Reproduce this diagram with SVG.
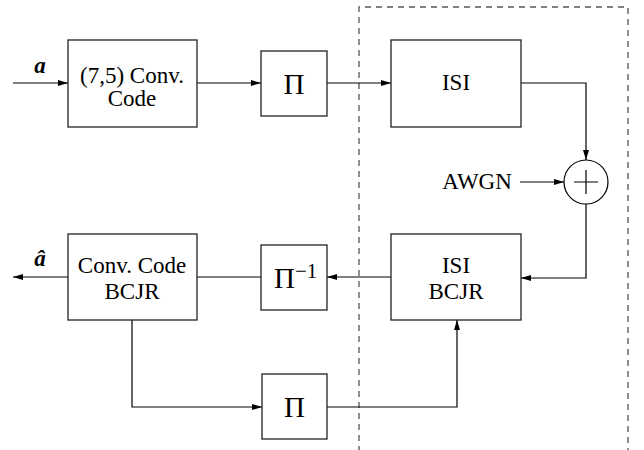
<svg xmlns="http://www.w3.org/2000/svg" width="644" height="450" viewBox="0 0 644 450" font-family="'Liberation Serif', 'Times New Roman', 'DejaVu Serif', serif">
<defs>
<marker id="ah" viewBox="0 0 10 6" refX="10" refY="3" markerWidth="10" markerHeight="6" markerUnits="userSpaceOnUse" orient="auto">
<path d="M0,0 L10,3 L0,6 z" fill="#000"/>
</marker>
</defs>
<style>
.box{fill:#fff;stroke:#222;stroke-width:1.3}
.t{font-size:23px;fill:#000;text-anchor:middle}
.pi{font-size:29px;fill:#000}
.ln{fill:none;stroke:#000;stroke-width:1.2}
.ar{marker-end:url(#ah)}
.dash{fill:none;stroke:#555;stroke-width:1.3;stroke-dasharray:6,5}
.bi{font-size:23px;font-weight:bold;font-style:italic;text-anchor:middle}
</style>
<rect width="644" height="450" fill="#fff"/>
<path class="dash" d="M359,452 L359,7 L628,7 L628,452"/>
<g id="connectors">
<path class="ln ar" d="M13,83 L68,83"/>
<path class="ln ar" d="M197,83 L261,83"/>
<path class="ln ar" d="M327,83 L391,83"/>
<path class="ln ar" d="M521,83 L586,83 L586,160"/>
<path class="ln ar" d="M520,182 L564,182"/>
<path class="ln ar" d="M586,204 L586,278 L521,278"/>
<path class="ln ar" d="M391,277 L327,277"/>
<path class="ln" d="M261,277 L197,277"/>
<path class="ln ar" d="M68,277 L13,277"/>
<path class="ln ar" d="M132,320 L132,407 L262,407"/>
<path class="ln ar" d="M327,407 L457,407 L457,320"/>
</g>
<g id="label-a"><text class="bi" x="40" y="73" font-family="'Liberation Serif', serif">a</text></g>
<g id="label-ahat"><text class="bi" x="40" y="266" font-family="'Liberation Serif', serif">â</text></g>
<g id="encoder" font-family="'Liberation Serif', serif">
<rect class="box" x="68" y="40" width="129" height="87"/>
<text class="t" x="132" y="83">(7,5) Conv.</text>
<text class="t" x="132" y="106">Code</text>
</g>
<g id="interleaver1" font-family="'Liberation Serif', serif">
<rect class="box" x="261" y="51" width="66" height="65"/>
<text class="pi" x="294" y="94" text-anchor="middle">Π</text>
</g>
<g id="isi" font-family="'Liberation Serif', serif">
<rect class="box" x="391" y="40" width="130" height="87"/>
<text class="t" x="456" y="90">ISI</text>
</g>
<g id="adder">
<circle cx="586" cy="182" r="22" fill="#fff" stroke="#000" stroke-width="1.2"/>
<path class="ln" d="M574,182 L598,182 M586,170 L586,194"/>
</g>
<g id="awgn" font-family="'Liberation Serif', serif"><text class="t" x="477" y="189">AWGN</text></g>
<g id="isi-bcjr" font-family="'Liberation Serif', serif">
<rect class="box" x="391" y="234" width="130" height="86"/>
<text class="t" x="456" y="273">ISI</text>
<text class="t" x="456" y="299">BCJR</text>
</g>
<g id="deinterleaver" font-family="'Liberation Serif', serif">
<rect class="box" x="261" y="245" width="66" height="65"/>
<text class="pi" x="274" y="288">Π</text>
<text x="295" y="278" font-size="21">−1</text>
</g>
<g id="conv-bcjr" font-family="'Liberation Serif', serif">
<rect class="box" x="68" y="234" width="129" height="86"/>
<text class="t" x="132" y="273">Conv. Code</text>
<text class="t" x="132" y="299">BCJR</text>
</g>
<g id="interleaver2" font-family="'Liberation Serif', serif">
<rect class="box" x="262" y="374" width="65" height="65"/>
<text class="pi" x="294.5" y="417" text-anchor="middle">Π</text>
</g>
</svg>
